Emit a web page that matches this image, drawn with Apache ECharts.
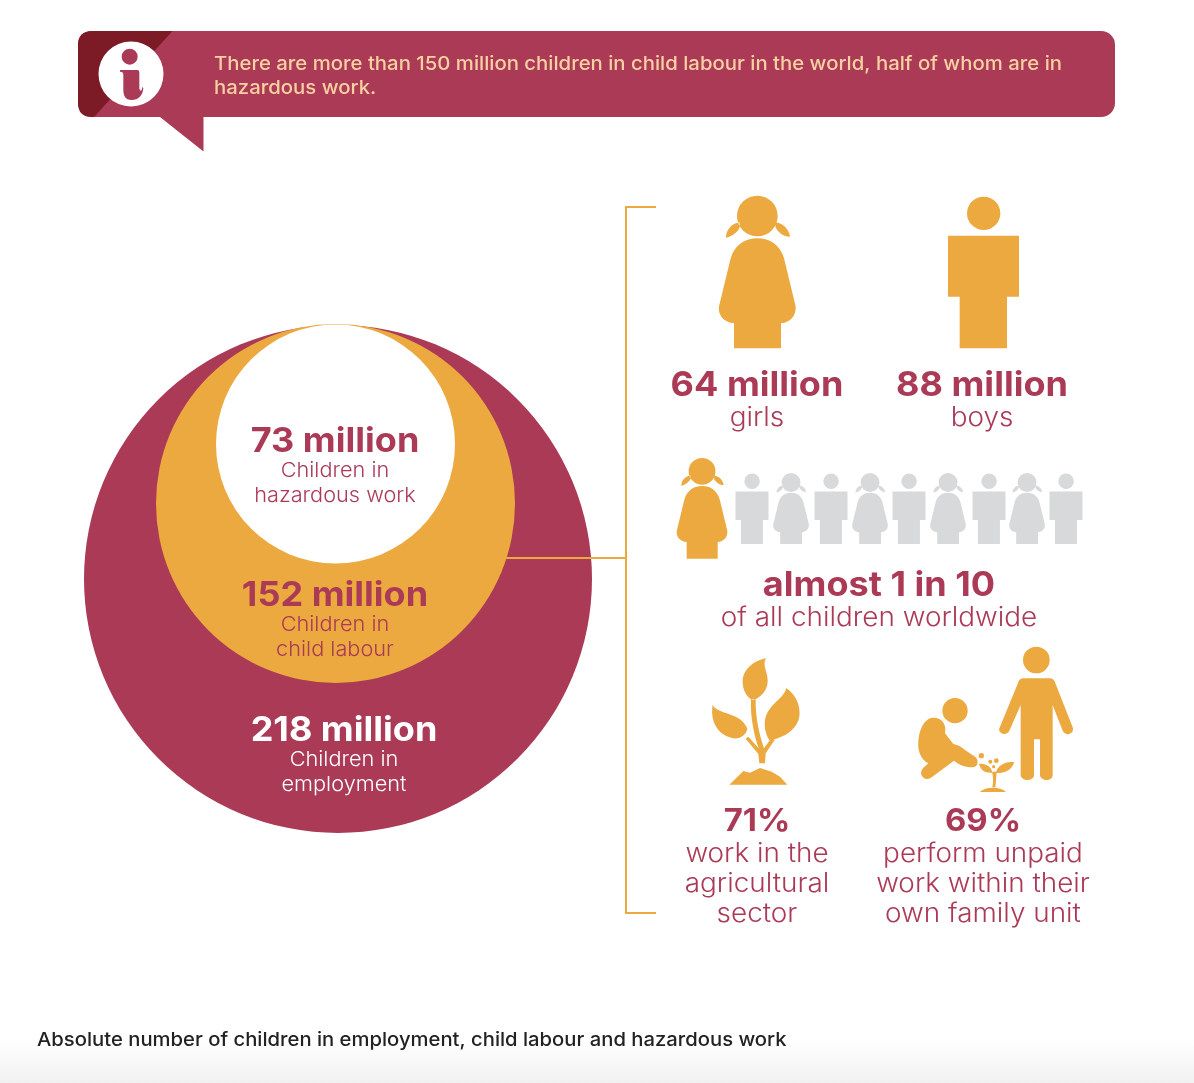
<!DOCTYPE html>
<html>
<head>
<meta charset="utf-8">
<title>Child labour</title>
<style>
html, body { margin: 0; padding: 0; background: #fff; }
#main { width: 1194px; height: 1083px; }
</style>
<script src="https://cdn.jsdelivr.net/npm/echarts@6/dist/echarts.min.js"></script>
</head>
<body>
<div id="main"></div>
<script>
// data
var circleValues = [218, 152, 73];
var circleCaptions = [["Children in", "employment"], ["Children in", "child labour"], ["Children in", "hazardous work"]];
var genderValues = [64, 88];
var genderNames = ["girls", "boys"];
var rowPeople = ["girl", "boy", "girl", "boy", "girl", "boy", "girl", "boy", "girl", "boy"];
var shareValues = [71, 69];
var shareCaptions = [["work in the", "agricultural", "sector"], ["perform unpaid", "work within their", "own family unit"]];
var noteLines = ["There are more than 150 million children in child labour in the world, half of whom are in", "hazardous work."];
var captionText = "Absolute number of children in employment, child labour and hazardous work";

// layout, in page pixels (the hidden axes run 0..1194 and 0..1083)
var circleCentres = [[338, 579], [335.5, 503.5], [335.5, 444]];
var circleDiameters = [508, 359, 239];
var rowCentres = [702, 752, 791, 831, 870, 909, 948, 989, 1027, 1066];

var RED = "#ab3a57", DARK = "#7c1a25", GOLD = "#eba93f", GREY = "#d8d9db", PEACH = "#f8d0a2";
var FONT = "Inter, 'Noto Sans', sans-serif";
var STRETCH = 1.06; // the original face is wider than Inter

var girlPath = "M141,93 A61,61 0 1 1 263,93 A61,61 0 1 1 141,93 Z " +
	"M148,112 C125,115 108,135 108,158 C125,155 145,140 150,125 Z " +
	"M258,112 C280,115 298,135 300,155 C280,155 262,140 256,125 Z " +
	"M202,160 C240,160 270,180 282,220 L316,360 C322,390 300,414 273,414 L273,490 L132,490 L132,414 C105,414 80,390 88,360 L122,220 C134,180 165,160 202,160 Z";
var boyPath = "M831,85 A50,50 0 1 1 931,85 A50,50 0 1 1 831,85 Z " +
	"M774,152 L987,152 L987,335 L951,335 L951,490 L809,490 L809,335 L774,335 Z";
var plantPath = "M198,55 C185,75 205,100 203,125 C203,150 180,175 158,180 C140,172 128,150 128,125 C128,90 160,62 198,55 Z " +
	"M258,144 C255,175 205,190 195,240 C192,265 198,285 208,300 C250,295 290,270 298,230 C302,200 290,165 258,144 Z " +
	"M38,195 C55,225 120,215 142,265 C140,285 120,298 100,295 C50,285 30,240 38,195 Z " +
	"M153,178 C150,230 163,290 176,325 L145,290 L137,296 L175,342 L178,370 L195,370 L197,340 L224,300 L214,294 L192,325 C177,280 166,230 167,178 Z " +
	"M88,434 L118,405 L130,393 L150,398 L180,384 L215,395 L240,410 L262,434 Z";
var familyPath = "M339,60 A40,40 0 1 1 419,60 A40,40 0 1 1 339,60 Z " +
	"M340,115 L420,115 C428,115 432,120 435,127 L488,262 C492,272 485,280 478,282 C470,284 462,280 458,272 L428,195 L428,405 C428,415 420,420 410,420 C398,420 390,412 390,405 L390,298 L372,298 L372,405 C372,415 362,420 352,420 C340,420 332,412 332,405 L332,195 L298,272 C293,282 282,284 275,280 C267,275 265,268 270,260 L325,127 C328,118 332,115 340,115 Z " +
	"M97,212 A38,38 0 1 1 173,212 A38,38 0 1 1 97,212 Z " +
	"M70,233 C98,233 110,255 105,280 L130,312 C145,315 155,322 165,330 L195,350 C205,358 205,372 198,378 C190,384 180,382 170,380 C155,378 145,372 132,362 L65,412 C55,420 42,418 36,408 C30,398 35,388 42,382 L55,370 C35,360 22,335 25,305 C28,265 45,233 70,233 Z " +
	"M206,347 A8,8 0 1 1 222,347 A8,8 0 1 1 206,347 Z " +
	"M235,365 A6,6 0 1 1 247,365 A6,6 0 1 1 235,365 Z " +
	"M252,362 A7,7 0 1 1 266,362 A7,7 0 1 1 252,362 Z " +
	"M246,380 A5,5 0 1 1 256,380 A5,5 0 1 1 246,380 Z " +
	"M207,372 C225,368 245,380 247,398 C225,400 212,390 207,372 Z " +
	"M313,367 C290,362 262,375 258,398 C285,402 305,390 313,367 Z " +
	"M246,395 C250,410 250,425 247,442 L256,442 C259,420 259,405 260,395 Z " +
	"M210,456 C225,440 270,438 288,456 Z";
var cornerPath = "M172.500,31 L92,31 Q78,31 78,45 L78,103 Q78,117 92,117 L94,117 Z";
var dotPath = "M98.500,74 A32.500,32.500 0 1 1 163.500,74 A32.500,32.500 0 1 1 98.500,74 Z";
var iPath = "M185,110 A24,24 0 1 1 233,110 A24,24 0 1 1 185,110 Z " +
	"M180,150 L232,150 C237,150 238,155 238,160 L238,205 C240,215 246,215 247,200 L250,205 C248,225 238,240 215,240 C195,240 190,225 190,210 L190,165 C190,158 187,155 180,155 Z";

// turn a drawn path into a scatter point with a path symbol
function icon(d, ox, oy, k, color) {
	var r = echarts.graphic.makePath(d).getBoundingRect();
	return {
		value: [ox + (r.x + r.width / 2) * k, oy + (r.y + r.height / 2) * k],
		symbol: "path://" + d,
		symbolSize: [r.width * k, r.height * k],
		itemStyle: { color: color, opacity: 1 }
	};
}

// same, but placed by centre x and bottom y
function person(kind, cx, bottom, k, color) {
	var d = kind == "girl" ? girlPath : boyPath;
	var r = echarts.graphic.makePath(d).getBoundingRect();
	return icon(d, cx - (r.x + r.width / 2) * k, bottom - 490 * k, k, color);
}

function txt(s, x, y, size, weight, color, align) {
	return {
		type: "text", z: 10, silent: true,
		x: x, y: y + 1.5, scaleX: STRETCH,
		style: {
			text: s, fill: color,
			font: weight + " " + size + "px " + FONT,
			textAlign: align || "center", textVerticalAlign: "middle"
		}
	};
}

var texts = [];
var BIG = 34, MID = 26.3, SMALL = 20.5;

texts.push(txt(circleValues[0] + " million", 344, 729, BIG, 700, "#fff"));
texts.push(txt(circleCaptions[0][0], 344, 758, SMALL, 300, "#fff"));
texts.push(txt(circleCaptions[0][1], 344, 783, SMALL, 300, "#fff"));
texts.push(txt(circleValues[1] + " million", 335, 594, BIG, 700, RED));
texts.push(txt(circleCaptions[1][0], 335, 623, SMALL, 300, RED));
texts.push(txt(circleCaptions[1][1], 335, 648, SMALL, 300, RED));
texts.push(txt(circleValues[2] + " million", 335, 440, BIG, 700, RED));
texts.push(txt(circleCaptions[2][0], 335, 469, SMALL, 300, RED));
texts.push(txt(circleCaptions[2][1], 335, 494, SMALL, 300, RED));

var genderX = [757, 982];
genderValues.forEach(function(v, i) {
	texts.push(txt(v + " million", genderX[i], 384, BIG, 700, RED));
	texts.push(txt(genderNames[i], genderX[i], 417, MID, 300, RED));
});

texts.push(txt("almost 1 in 10", 879, 584, BIG, 700, RED));
texts.push(txt("of all children worldwide", 879, 617, MID, 300, RED));

var shareX = [757, 983];
shareValues.forEach(function(v, i) {
	texts.push(txt(v + "%", shareX[i], 820, 31, 700, RED));
	shareCaptions[i].forEach(function(line, j) {
		texts.push(txt(line, shareX[i], 853 + j * 30, MID, 300, RED));
	});
});

noteLines.forEach(function(line, i) {
	texts.push(txt(line, 214, 62.500 + i * 24, 19.2, 500, PEACH, "left"));
});
texts.push(txt(captionText, 37, 1039, 19.1, 500, "#222", "left"));

var backdrop = [
	{ type: "rect", z: 0, silent: true, shape: { x: 0, y: 1040, width: 1194, height: 43 },
		style: { fill: new echarts.graphic.LinearGradient(0, 0, 0, 1, [{ offset: 0, color: "#ffffff" }, { offset: 1, color: "#f1f1f1" }]) } },
	{ type: "rect", z: 1, silent: true, shape: { x: 78, y: 31, width: 1037, height: 86, r: 14 }, style: { fill: RED } },
	{ type: "polygon", z: 1, silent: true, shape: { points: [[160, 117], [203.500, 151.500], [203.500, 117]] }, style: { fill: RED } },
	{ type: "polyline", z: 1, silent: true, shape: { points: [[656, 207], [626, 207], [626, 913], [656, 913]] },
		style: { stroke: GOLD, lineWidth: 2, fill: null } },
	{ type: "line", z: 10, silent: true, shape: { x1: 505, y1: 558, x2: 626, y2: 558 }, style: { stroke: GOLD, lineWidth: 2 } }
];

var circleColors = [RED, GOLD, "#fff"];
var circleData = circleValues.map(function(v, i) {
	return { name: v + " million", value: circleCentres[i].concat(v), symbolSize: circleDiameters[i], itemStyle: { color: circleColors[i], opacity: 1 } };
});

var iconData = [
	icon(cornerPath, 0, 0, 1, DARK),
	icon(dotPath, 0, 0, 1, "#fff"),
	icon(iPath, 60, 20, 1 / 3, RED),
	icon(girlPath, 690, 185, 1 / 3, GOLD),
	icon(boyPath, 690, 185, 1 / 3, GOLD),
	icon(plantPath, 700, 640, 1 / 3, GOLD),
	icon(familyPath, 910, 640, 1 / 3, GOLD)
];
rowPeople.forEach(function(kind, i) {
	if (i == 0) {
		iconData.push(person(kind, rowCentres[i], 558.7, 0.22, GOLD));
	} else {
		iconData.push(person(kind, rowCentres[i], 544, 0.155, GREY));
	}
});

var myChart = echarts.init(document.getElementById("main"));
myChart.setOption({
	animation: false,
	backgroundColor: "#fff",
	tooltip: { show: false },
	grid: { left: 0, right: 0, top: 0, bottom: 0 },
	xAxis: { type: "value", min: 0, max: 1194, show: false },
	yAxis: { type: "value", min: 0, max: 1083, inverse: true, show: false },
	graphic: { elements: backdrop.concat(texts) },
	series: [
		{ type: "scatter", z: 3, silent: true, data: circleData, symbol: "circle" },
		{ type: "scatter", z: 4, silent: true, data: iconData }
	]
});
</script>
</body>
</html>
